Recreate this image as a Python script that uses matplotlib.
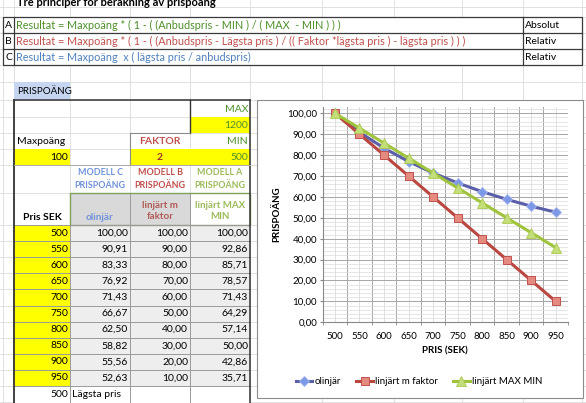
import matplotlib.pyplot as plt
from matplotlib.patches import Rectangle
from matplotlib.ticker import MultipleLocator, FuncFormatter

# data from the sheet
prices = [500, 550, 600, 650, 700, 750, 800, 850, 900, 950]
olinjar = [100.00, 90.91, 83.33, 76.92, 71.43, 66.67, 62.50, 58.82, 55.56, 52.63]
faktor = [100.00, 90.00, 80.00, 70.00, 60.00, 50.00, 40.00, 30.00, 20.00, 10.00]
maxmin = [100.00, 92.86, 85.71, 78.57, 71.43, 64.29, 57.14, 50.00, 42.86, 35.71]
series_names = ['olinjär', 'linjärt m faktor', 'linjärt MAX MIN']

formula_keys = ['A', 'B', 'C']
formulas = [
    'Resultat = Maxpoäng * ( 1 - ( (Anbudspris - MIN ) / ( MAX  - MIN ) ) )',
    'Resultat = Maxpoäng * ( 1 - ( (Anbudspris - Lägsta pris ) / (( Faktor *lägsta pris ) - lägsta pris ) ) )',
    'Resultat = Maxpoäng  x ( lägsta pris / anbudspris)',
]
formula_types = ['Absolut', 'Relativ', 'Relativ']

max_pris = 1200
min_pris = 500
maxpoang = 100
faktor_val = 2
lagsta_pris = 500

plt.rcParams['font.family'] = ['Lato', 'DejaVu Sans']

GREEN = '#4E8F2A'
RED = '#C0504D'
BLUE = '#4F81BD'
LBLUE = '#6F92DA'
LGREEN = '#9BBB59'


def sv(v):
    return f'{v:.2f}'.replace('.', ',')


fig = plt.figure(figsize=(5.86, 4.03), dpi=100)
bg = fig.add_axes([0, 0, 1, 1])
bg.set_xlim(0, 586)
bg.set_ylim(403, 0)
bg.axis('off')

# spreadsheet grid
rows = [7, 17, 33, 49, 65, 82, 100, 117, 133, 149, 165, 193, 225]
rows += [225 + 16.1 * k for k in range(1, 12)]
cols = [3, 14, 70, 130, 190, 250, 322, 394, 462, 523, 582]
for y in rows:
    bg.plot([0, 586], [y, y], color='#DCDCDC', lw=0.6, zorder=1)
for x in cols:
    bg.plot([x, x], [0, 403], color='#DCDCDC', lw=0.6, zorder=1)

bg.text(17, 6, 'Tre principer för beräkning av prispoäng', fontsize=8,
        fontweight='bold', va='baseline', zorder=3)

# formula table
bg.add_patch(Rectangle((3, 17), 579, 48, fc='white', ec='#3A3A3A', lw=0.9, zorder=2))
for y in [33, 49]:
    bg.plot([3, 582], [y, y], color='#3A3A3A', lw=0.9, zorder=3)
for x in [14, 523]:
    bg.plot([x, x], [17, 65], color='#3A3A3A', lw=0.9, zorder=3)
for i, (k, f, t, c) in enumerate(zip(formula_keys, formulas, formula_types, [GREEN, RED, BLUE])):
    yc = 25 + 16 * i
    bg.text(8.5, yc, k, ha='center', va='center', fontsize=7.5, zorder=4)
    bg.text(16, yc, f, color=c, va='center', fontsize=7.8, zorder=4)
    bg.text(525, yc, t, va='center', fontsize=7.5, zorder=4)

# prispoäng table
bg.add_patch(Rectangle((14, 82), 56, 18, fc='#C6D6F0', ec='none', zorder=2))
bg.text(17, 91, 'PRISPOÄNG', va='center', fontsize=7, zorder=4)

for xy, w in [((190, 117), 60), ((14, 149), 56), ((130, 149), 60), ((190, 149), 60)]:
    bg.add_patch(Rectangle(xy, w, 16, fc='#FFFF00', ec='none', zorder=2))

bg.text(248, 109, 'MAX', ha='right', va='center', color=GREEN, fontsize=7.5, zorder=4)
bg.text(248, 125, str(max_pris), ha='right', va='center', color=GREEN, fontsize=7.5, zorder=4)
bg.text(17, 141, 'Maxpoäng', va='center', fontsize=7.5, zorder=4)
bg.text(160, 141, 'FAKTOR', ha='center', va='center', color=RED, fontsize=7.5,
        fontweight='bold', zorder=4)
bg.text(248, 141, 'MIN', ha='right', va='center', color=GREEN, fontsize=7.5, zorder=4)
bg.text(68, 157, str(maxpoang), ha='right', va='center', fontsize=7.5, zorder=4)
bg.text(160, 157, str(faktor_val), ha='center', va='center', color='#A0302C', fontsize=7.5,
        fontweight='bold', zorder=4)
bg.text(248, 157, str(min_pris), ha='right', va='center', color=GREEN, fontsize=7.5, zorder=4)

for xc, s, c in [(100, 'MODELL C\nPRISPOÄNG', LBLUE), (160, 'MODELL B\nPRISPOÄNG', RED),
                 (220, 'MODELL A\nPRISPOÄNG', LGREEN)]:
    bg.text(xc, 179, s, ha='center', va='center', color=c, fontsize=6.4,
            fontweight='bold', linespacing=1.45, zorder=4)

# header row
bg.add_patch(Rectangle((70, 193), 120, 32, fc='#D9D9D9', ec='none', zorder=2))
bg.add_patch(Rectangle((190, 193), 60, 32, fc='white', ec='none', zorder=2))
bg.plot([130, 130], [193, 225], color='#9A9A9A', lw=0.7, zorder=3)
bg.plot([190, 190], [193, 225], color='#9A9A9A', lw=0.7, zorder=3)
bg.add_patch(Rectangle((70, 193), 180, 32, fill=False, ec='#7FA05A', lw=1, zorder=3))
bg.text(42, 217, 'Pris SEK', ha='center', va='center', fontsize=7.5, fontweight='bold', zorder=4)
bg.text(100, 217, 'olinjär', ha='center', va='center', color=LBLUE, fontsize=7.2,
        fontweight='bold', zorder=4)
bg.text(160, 211, 'linjärt m\nfaktor', ha='center', va='center', color='#B05A55',
        fontsize=7, fontweight='bold', linespacing=1.35, zorder=4)
bg.text(220, 211, 'linjärt MAX\nMIN', ha='center', va='center', color=LGREEN,
        fontsize=7, fontweight='bold', linespacing=1.35, zorder=4)

# data rows
top = 225
rh = 16.1
n = len(prices)
bg.add_patch(Rectangle((14, top), 56, rh * n, fc='#FFFF00', ec='none', zorder=2))
bg.add_patch(Rectangle((70, top), 180, rh * n, fc='#EEEEEE', ec='none', zorder=2))
bg.add_patch(Rectangle((14, top + rh * n), 236, 20, fc='white', ec='none', zorder=2))
for k in range(n + 1):
    y = top + rh * k
    bg.plot([14, 250], [y, y], color='#9A9A9A', lw=0.7, zorder=3)
for x in [70, 130, 190]:
    bg.plot([x, x], [top, 403], color='#9A9A9A', lw=0.7, zorder=3)
for k, (p, a, b, c) in enumerate(zip(prices, olinjar, faktor, maxmin)):
    yc = top + rh * k + rh / 2
    bg.text(68, yc, str(p), ha='right', va='center', fontsize=7.5, zorder=4)
    for xr, v in [(128, a), (188, b), (248, c)]:
        bg.text(xr, yc, sv(v), ha='right', va='center', fontsize=7.5, zorder=4)
yc = top + rh * n + rh / 2
bg.text(68, yc, str(lagsta_pris), ha='right', va='center', fontsize=7.5, zorder=4)
bg.text(72, yc, 'Lägsta pris', va='center', fontsize=7.5, zorder=4)

# table borders
bg.plot([14, 250], [100, 100], color='#333333', lw=1.1, zorder=3)
bg.plot([14, 14], [100, 403], color='#333333', lw=1.3, zorder=3)
bg.plot([250, 250], [100, 403], color='#333333', lw=1.1, zorder=3)
bg.plot([190, 190], [100, 133], color='#333333', lw=1.0, zorder=3)
bg.plot([130, 190], [133, 133], color='#8A8A8A', lw=0.8, zorder=3)
bg.plot([130, 130], [133, 165], color='#8A8A8A', lw=0.8, zorder=3)
bg.plot([14, 250], [165, 165], color='#AAAAAA', lw=0.7, zorder=3)

# chart area
bg.add_patch(Rectangle((257, 100), 326, 298, fc='white', ec='#8C8C8C', lw=0.8, zorder=5))

ax = fig.add_axes([322.7 / 586, (403 - 322.3) / 403, 245.3 / 586, 215.3 / 403])
ax.set_zorder(6)
ax.patch.set_alpha(0)
xs = list(range(n))
ax.plot(xs, olinjar, color='#5B5FA9', lw=2.2, marker='D', ms=4.8,
        mfc='#7D98E6', mec='#A3B6EE', mew=0.6, label=series_names[0])
ax.plot(xs, faktor, color='#B9473F', lw=2.2, marker='s', ms=6,
        mfc='#E58A7F', mec='#C0504D', mew=0.7, label=series_names[1])
ax.plot(xs, maxmin, color='#A0C33C', lw=2.2, marker='^', ms=6.5,
        mfc='#C4DF7A', mec='#A9C94E', mew=0.6, label=series_names[2])

ax.set_xlim(-0.5, n - 0.5)
ax.set_ylim(0, 103)
ax.set_xticks(xs)
ax.set_xticklabels([str(p) for p in prices])
ax.set_xticks([i - 0.5 for i in range(n + 1)], minor=True)
ax.yaxis.set_major_locator(MultipleLocator(10))
ax.yaxis.set_minor_locator(MultipleLocator(2))
ax.yaxis.set_major_formatter(FuncFormatter(lambda v, _: sv(v)))

ax.grid(which='minor', axis='x', color='#A6A6A6', lw=0.7)
ax.grid(which='major', axis='x', color='#DCDCDC', lw=0.6)
ax.grid(which='major', axis='y', color='#A6A6A6', lw=0.7)
ax.grid(which='minor', axis='y', color='#DCDCDC', lw=0.5)
ax.set_axisbelow(True)

ax.tick_params(axis='x', which='major', length=0, pad=7, labelsize=7)
ax.tick_params(axis='x', which='minor', length=2.5, color='#888888')
ax.tick_params(axis='y', which='major', length=2.5, pad=1.5, labelsize=7, color='#888888')
ax.tick_params(axis='y', which='minor', length=0)
for s in ['top', 'right']:
    ax.spines[s].set_visible(False)
for s in ['left', 'bottom']:
    ax.spines[s].set_color('#888888')
    ax.spines[s].set_linewidth(0.8)

ax.set_xlabel('PRIS (SEK)', fontsize=7, fontweight='bold', labelpad=4)
ax.set_ylabel('PRISPOÄNG', fontsize=7, fontweight='bold', labelpad=4)

leg = fig.legend(loc='center', bbox_to_anchor=(419 / 586, 1 - 382 / 403), ncol=3,
                 frameon=False, fontsize=7, handlelength=1.7, handletextpad=0.2,
                 columnspacing=1.6, numpoints=1)
leg.set_zorder(7)

fig.savefig('out.png', dpi=100)
